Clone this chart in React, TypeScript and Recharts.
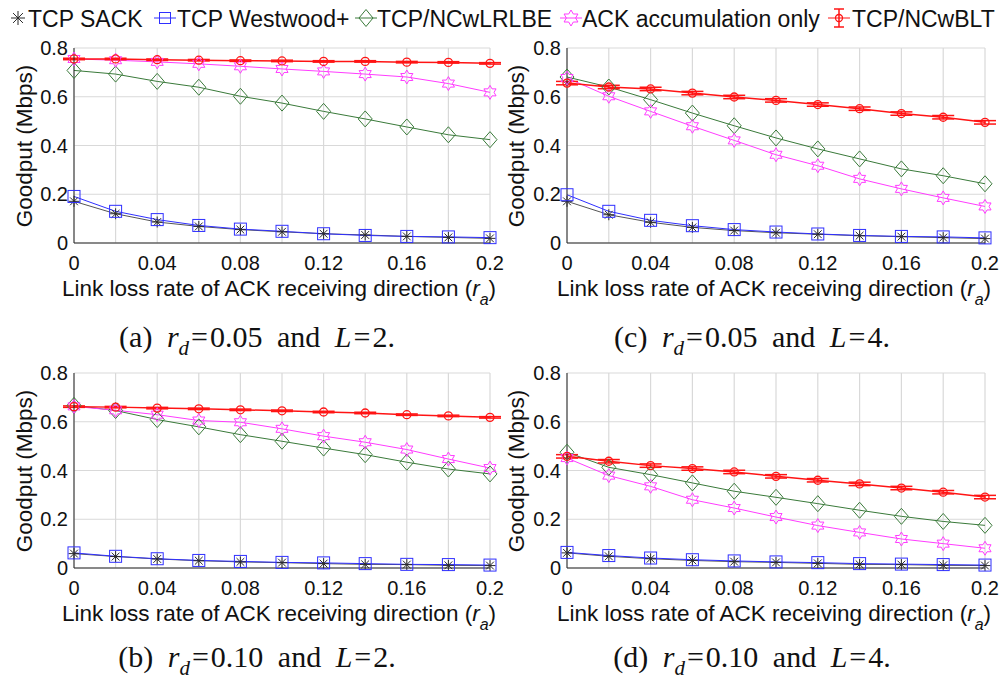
import React from 'react';
import { LineChart, Line, XAxis, YAxis, CartesianGrid, ErrorBar } from 'recharts';

// ---------- data ----------
const lossRates = [0, 0.02, 0.04, 0.06, 0.08, 0.1, 0.12, 0.14, 0.16, 0.18, 0.2];
const yTicks = [0, 0.2, 0.4, 0.6, 0.8];

// (a) r_d = 0.05, L = 2
const aSack = [0.171, 0.12, 0.086, 0.068, 0.055, 0.046, 0.038, 0.033, 0.027, 0.023, 0.019];
const aWestwood = [0.191, 0.13, 0.096, 0.072, 0.057, 0.048, 0.038, 0.031, 0.027, 0.025, 0.022];
const aLrlbe = [0.708, 0.693, 0.663, 0.639, 0.602, 0.574, 0.54, 0.509, 0.476, 0.444, 0.424];
const aAck = [0.755, 0.75, 0.743, 0.735, 0.725, 0.714, 0.704, 0.693, 0.681, 0.654, 0.618];
const aBlt = [0.755, 0.755, 0.752, 0.75, 0.748, 0.747, 0.745, 0.745, 0.742, 0.741, 0.737];
const aBltErr = [0.003, 0.003, 0.003, 0.003, 0.003, 0.003, 0.003, 0.003, 0.003, 0.003, 0.003];

// (c) r_d = 0.05, L = 4
const cSack = [0.171, 0.116, 0.085, 0.064, 0.051, 0.042, 0.036, 0.03, 0.026, 0.022, 0.018];
const cWestwood = [0.198, 0.13, 0.093, 0.071, 0.055, 0.045, 0.037, 0.031, 0.027, 0.025, 0.021];
const cLrlbe = [0.681, 0.64, 0.588, 0.533, 0.481, 0.431, 0.386, 0.345, 0.304, 0.276, 0.243];
const cAck = [0.677, 0.602, 0.54, 0.479, 0.421, 0.362, 0.317, 0.263, 0.222, 0.185, 0.15];
const cBlt = [0.656, 0.64, 0.632, 0.615, 0.599, 0.585, 0.568, 0.551, 0.531, 0.516, 0.495];
const cBltErr = [0.007, 0.007, 0.007, 0.007, 0.007, 0.007, 0.007, 0.007, 0.007, 0.007, 0.007];

// (b) r_d = 0.10, L = 2
const bSack = [0.059, 0.047, 0.037, 0.03, 0.025, 0.022, 0.018, 0.015, 0.014, 0.011, 0.01];
const bWestwood = [0.062, 0.048, 0.038, 0.031, 0.027, 0.023, 0.021, 0.018, 0.015, 0.014, 0.012];
const bLrlbe = [0.667, 0.646, 0.609, 0.579, 0.547, 0.52, 0.492, 0.465, 0.434, 0.406, 0.386];
const bAck = [0.663, 0.647, 0.629, 0.605, 0.598, 0.571, 0.541, 0.516, 0.486, 0.447, 0.41];
const bBlt = [0.662, 0.66, 0.656, 0.653, 0.649, 0.645, 0.64, 0.636, 0.629, 0.624, 0.618];
const bBltErr = [0.003, 0.003, 0.003, 0.003, 0.003, 0.003, 0.003, 0.003, 0.003, 0.003, 0.003];

// (d) r_d = 0.10, L = 4
const dSack = [0.062, 0.048, 0.038, 0.031, 0.026, 0.023, 0.019, 0.015, 0.014, 0.011, 0.01];
const dWestwood = [0.064, 0.051, 0.041, 0.034, 0.029, 0.025, 0.022, 0.018, 0.016, 0.014, 0.012];
const dLrlbe = [0.475, 0.413, 0.383, 0.349, 0.315, 0.29, 0.264, 0.237, 0.212, 0.191, 0.175];
const dAck = [0.451, 0.379, 0.335, 0.28, 0.246, 0.209, 0.174, 0.146, 0.119, 0.1, 0.081];
const dBlt = [0.458, 0.438, 0.42, 0.408, 0.394, 0.376, 0.36, 0.345, 0.328, 0.311, 0.291];
const dBltErr = [0.007, 0.007, 0.007, 0.007, 0.007, 0.007, 0.007, 0.007, 0.007, 0.007, 0.007];

const legendLabels = ['TCP SACK', 'TCP Westwood+', 'TCP/NCwLRLBE', 'ACK accumulation only', 'TCP/NCwBLT'];

// ---------- styles ----------
const C = {
  sack: '#2b2b2b',
  westwood: '#2f2fff',
  lrlbe: '#3a7a3a',
  ack: '#ff3cff',
  blt: '#ff1414',
};
const SANS = '"Liberation Sans", Arial, sans-serif';
const SERIF = '"Liberation Serif", "Times New Roman", serif';

function buildData(sack: number[], ww: number[], lr: number[], ack: number[], blt: number[], err: number[]) {
  return lossRates.map((x, i) => ({ x, sack: sack[i], westwood: ww[i], lrlbe: lr[i], ack: ack[i], blt: blt[i], bltErr: err[i] }));
}

// ---------- markers ----------
function Asterisk({ cx, cy, color, s = 5.5 }: any) {
  const d = s * 0.707;
  return (
    <g stroke={color} strokeWidth={1}>
      <line x1={cx - s} y1={cy} x2={cx + s} y2={cy} />
      <line x1={cx} y1={cy - s} x2={cx} y2={cy + s} />
      <line x1={cx - d} y1={cy - d} x2={cx + d} y2={cy + d} />
      <line x1={cx - d} y1={cy + d} x2={cx + d} y2={cy - d} />
    </g>
  );
}
function Square({ cx, cy, color, s = 6 }: any) {
  return <rect x={cx - s} y={cy - s} width={2 * s} height={2 * s} fill="none" stroke={color} strokeWidth={1} />;
}
function Diamond({ cx, cy, color, w = 7, h = 8 }: any) {
  return <polygon points={`${cx},${cy - h} ${cx + w},${cy} ${cx},${cy + h} ${cx - w},${cy}`} fill="none" stroke={color} strokeWidth={1} />;
}
function Hexagram({ cx, cy, color, R = 7 }: any) {
  const r = R / Math.sqrt(3);
  const pts: string[] = [];
  for (let k = 0; k < 12; k++) {
    const ang = ((-90 + k * 30) * Math.PI) / 180;
    const rad = k % 2 === 0 ? R : r;
    pts.push(`${(cx + rad * Math.cos(ang)).toFixed(2)},${(cy + rad * Math.sin(ang)).toFixed(2)}`);
  }
  return <polygon points={pts.join(' ')} fill="none" stroke={color} strokeWidth={1} />;
}
function Circle({ cx, cy, color, r = 4 }: any) {
  return <circle cx={cx} cy={cy} r={r} fill="none" stroke={color} strokeWidth={1.3} />;
}

const fmtX = (v: number) => {
  const k = Math.round(v * 100);
  if (k % 4 !== 0) return '';
  return k === 0 ? '0' : String(k / 100);
};
const fmtY = (v: number) => (v === 0 ? '0' : v.toFixed(1));

// ---------- panel ----------
function Panel({ left, top, width, mLeft, mRight, data }: any) {
  const tickStyle = { fontSize: 20, fill: '#111', fontFamily: SANS };
  return (
    <div style={{ position: 'absolute', left, top }}>
      <LineChart width={width} height={280} data={data} margin={{ top: 10, right: mRight, bottom: 5, left: mLeft }}>
        <CartesianGrid stroke="#d9d9d9" strokeWidth={1.2} />
        <XAxis
          dataKey="x"
          type="number"
          domain={[0, 0.2]}
          ticks={lossRates}
          interval={0}
          tickFormatter={fmtX}
          tick={tickStyle}
          tickLine={false}
          tickSize={0}
          tickMargin={13}
          height={70}
          axisLine={{ stroke: '#262626', strokeWidth: 1 }}
        />
        <XAxis xAxisId="top" orientation="top" type="number" domain={[0, 0.2]} tick={false} tickLine={false} height={0} axisLine={{ stroke: '#262626', strokeWidth: 1 }} />
        <YAxis
          type="number"
          domain={[0, 0.8]}
          ticks={yTicks}
          interval={0}
          tickFormatter={fmtY}
          tick={tickStyle}
          tickLine={false}
          tickSize={0}
          tickMargin={6}
          width={60}
          axisLine={{ stroke: '#262626', strokeWidth: 1 }}
        />
        <YAxis yAxisId="right" orientation="right" type="number" domain={[0, 0.8]} tick={false} tickLine={false} width={0} axisLine={{ stroke: '#262626', strokeWidth: 1 }} />
        <Line
          dataKey="sack"
          stroke="#555"
          strokeWidth={1}
          isAnimationActive={false}
          activeDot={false}
          dot={(p: any) => <Asterisk key={`sk${p.index}`} cx={p.cx} cy={p.cy} color={C.sack} />}
        />
        <Line
          dataKey="westwood"
          stroke={C.westwood}
          strokeWidth={1}
          isAnimationActive={false}
          activeDot={false}
          dot={(p: any) => <Square key={`ww${p.index}`} cx={p.cx} cy={p.cy} color={C.westwood} />}
        />
        <Line
          dataKey="lrlbe"
          stroke={C.lrlbe}
          strokeWidth={1}
          isAnimationActive={false}
          activeDot={false}
          dot={(p: any) => <Diamond key={`lr${p.index}`} cx={p.cx} cy={p.cy} color={C.lrlbe} />}
        />
        <Line
          dataKey="ack"
          stroke={C.ack}
          strokeWidth={1}
          isAnimationActive={false}
          activeDot={false}
          dot={(p: any) => <Hexagram key={`ac${p.index}`} cx={p.cx} cy={p.cy} color={C.ack} />}
        />
        <Line
          dataKey="blt"
          stroke={C.blt}
          strokeWidth={1.5}
          isAnimationActive={false}
          activeDot={false}
          dot={(p: any) => <Circle key={`bl${p.index}`} cx={p.cx} cy={p.cy} color={C.blt} />}
        >
          <ErrorBar dataKey="bltErr" width={11} stroke={C.blt} strokeWidth={1.5} direction="y" isAnimationActive={false} />
        </Line>
      </LineChart>
    </div>
  );
}

function XLabel({ cx, baseline }: any) {
  const fs = 22.5;
  const top = baseline - fs * 0.847;
  return (
    <div style={{ position: 'absolute', left: cx - 300, top, width: 600, textAlign: 'center', fontFamily: SANS, fontSize: fs, lineHeight: 1, color: '#111', whiteSpace: 'nowrap' }}>
      Link loss rate of ACK receiving direction (<i>r</i>
      <span style={{ fontStyle: 'italic', fontSize: 16, position: 'relative', top: 9 }}>a</span>)
    </div>
  );
}

function YLabel({ cx, cy }: any) {
  return (
    <div
      style={{
        position: 'absolute',
        left: cx - 110,
        top: cy - 14,
        width: 220,
        height: 28,
        lineHeight: '28px',
        textAlign: 'center',
        fontFamily: SANS,
        fontSize: 22.5,
        color: '#111',
        transform: 'rotate(-90deg)',
        whiteSpace: 'nowrap',
      }}
    >
      Goodput (Mbps)
    </div>
  );
}

function Caption({ cx, baseline, tag, rd, L }: any) {
  const fs = 30;
  const top = baseline - fs * 0.85;
  return (
    <div style={{ position: 'absolute', left: cx - 250, top, width: 500, textAlign: 'center', fontFamily: SERIF, fontSize: fs, lineHeight: 1, color: '#111', whiteSpace: 'nowrap', wordSpacing: 7 }}>
      ({tag}) <i>r</i>
      <span style={{ fontStyle: 'italic', fontSize: 21, position: 'relative', top: 8 }}>d</span>
      <span style={{ margin: '0 2px' }}>=</span>
      {rd} and <i>L</i>
      <span style={{ margin: '0 2px' }}>=</span>
      {L}.
    </div>
  );
}

function LegendIcon({ kind }: any) {
  const cx = 12;
  const cy = 12;
  const color = (C as any)[kind];
  return (
    <svg width={24} height={24} style={{ display: 'block' }}>
      {kind !== 'sack' && <line x1={1} y1={cy} x2={23} y2={cy} stroke={color} strokeWidth={1} />}
      {kind === 'sack' && <Asterisk cx={cx} cy={cy} color={color} s={7} />}
      {kind === 'westwood' && <Square cx={cx} cy={cy} color={color} s={5.5} />}
      {kind === 'lrlbe' && <Diamond cx={cx} cy={cy} color={color} w={7} h={8.5} />}
      {kind === 'ack' && <Hexagram cx={cx} cy={cy} color={color} R={8} />}
      {kind === 'blt' && (
        <g>
          <line x1={cx} y1={3} x2={cx} y2={21} stroke={color} strokeWidth={1.5} />
          <line x1={cx - 5} y1={3} x2={cx + 5} y2={3} stroke={color} strokeWidth={1.5} />
          <line x1={cx - 5} y1={21} x2={cx + 5} y2={21} stroke={color} strokeWidth={1.5} />
          <Circle cx={cx} cy={cy} color={color} r={3.5} />
        </g>
      )}
    </svg>
  );
}

function Legend() {
  const kinds = ['sack', 'westwood', 'lrlbe', 'ack', 'blt'];
  const iconX = [17.5, 165, 366, 571, 839];
  const textX = [28, 177, 377, 582, 852];
  return (
    <>
      {kinds.map((k, i) => (
        <React.Fragment key={k}>
          <div style={{ position: 'absolute', left: iconX[i] - 12, top: 17.5 - 12 }}>
            <LegendIcon kind={k} />
          </div>
          <div style={{ position: 'absolute', left: textX[i], top: 7.5, fontFamily: SANS, fontSize: 23, lineHeight: 1, color: '#111', whiteSpace: 'nowrap' }}>
            {legendLabels[i]}
          </div>
        </React.Fragment>
      ))}
    </>
  );
}

export default function App() {
  const dataA = buildData(aSack, aWestwood, aLrlbe, aAck, aBlt, aBltErr);
  const dataC = buildData(cSack, cWestwood, cLrlbe, cAck, cBlt, cBltErr);
  const dataB = buildData(bSack, bWestwood, bLrlbe, bAck, bBlt, bBltErr);
  const dataD = buildData(dSack, dWestwood, dLrlbe, dAck, dBlt, dBltErr);
  return (
    <div style={{ position: 'absolute', left: 0, top: 0, width: 1002, height: 683, background: '#fff', overflow: 'hidden' }}>
      <Legend />
      <Panel left={0} top={38} width={514} mLeft={14} mRight={24} data={dataA} />
      <Panel left={500} top={38} width={502} mLeft={7} mRight={17} data={dataC} />
      <Panel left={0} top={363} width={514} mLeft={14} mRight={24} data={dataB} />
      <Panel left={500} top={363} width={502} mLeft={7} mRight={17} data={dataD} />

      <YLabel cx={25} cy={145.5} />
      <YLabel cx={517} cy={145.5} />
      <YLabel cx={25} cy={470.5} />
      <YLabel cx={517} cy={470.5} />

      <XLabel cx={279} baseline={297} />
      <XLabel cx={774} baseline={297} />
      <XLabel cx={279} baseline={622} />
      <XLabel cx={774} baseline={622} />

      <Caption cx={257} baseline={347} tag="a" rd="0.05" L="2" />
      <Caption cx={752} baseline={347} tag="c" rd="0.05" L="4" />
      <Caption cx={257} baseline={667} tag="b" rd="0.10" L="2" />
      <Caption cx={752} baseline={667} tag="d" rd="0.10" L="4" />
    </div>
  );
}
